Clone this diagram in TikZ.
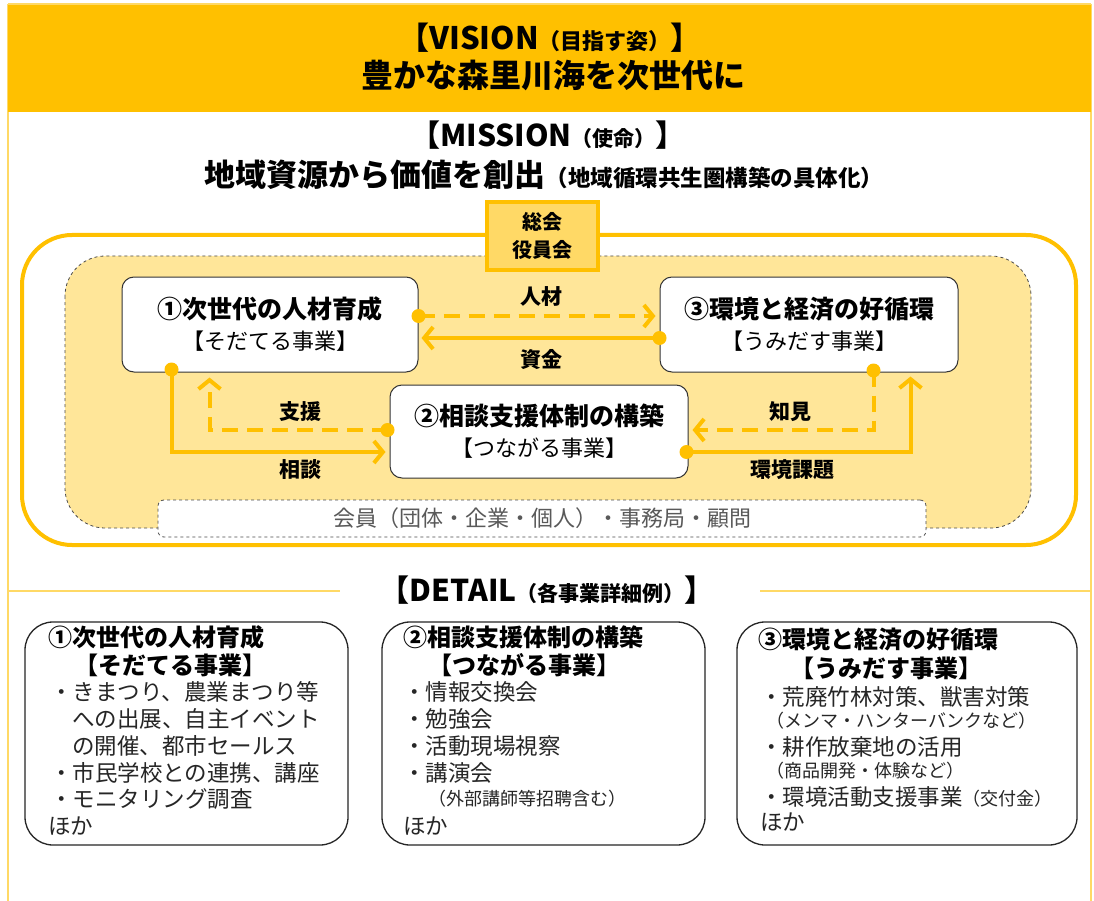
\documentclass[tikz,border=0pt]{standalone}
\usepackage{fontspec}
\setmainfont{Noto Sans CJK JP}
\usetikzlibrary{arrows.meta,calc}
\definecolor{gold}{HTML}{FFC000}
\definecolor{lightgold}{HTML}{FFE699}
\definecolor{midgold}{HTML}{FFD966}
\definecolor{txtgray}{HTML}{595959}
\begin{document}
\begin{tikzpicture}[x=1pt,y=-1pt,
  pbox/.style={draw=black!80, fill=white, rounded corners=12pt, line width=1pt,
    minimum width=296pt, minimum height=95pt, align=center, inner sep=0pt,
    font=\fontsize{22}{31}\selectfont},
  flow/.style={gold, line width=4pt, -{Straight Barb[length=9pt,width=22pt]}},
  dflow/.style={flow, dash pattern=on 16pt off 9pt},
  dot/.style={circle, fill=gold, inner sep=0pt, minimum size=14pt},
  lbl/.style={font=\bfseries\fontsize{21}{23}\selectfont, inner sep=0pt},
  dbox/.style={draw=black!85, line width=1.3pt, rounded corners=28pt, fill=white, minimum height=223pt},
  dl/.style={anchor=west, inner sep=0pt, text=black!85, font=\fontsize{22.5}{25}\selectfont},
  dt/.style={anchor=west, inner sep=0pt, font=\bfseries\fontsize{24}{26}\selectfont},
  ds/.style={anchor=west, inner sep=0pt, text=black!85, font=\fontsize{18}{20}\selectfont}
]
\useasboundingbox (0,0) rectangle (1094,901);
\fill[white] (0,0) rectangle (1094,901);
% page frame
\draw[midgold, line width=1.5pt] (8,4) -- (8,901) (1091,4) -- (1091,901) (8,4) -- (1091,4);
\fill[gold] (8,5) rectangle (1091,112);

% VISION / MISSION
\node[font=\bfseries\fontsize{31}{34}\selectfont, inner sep=0pt] (vision) at (550,38)
  {【VISION{\fontsize{22}{24}\selectfont（目指す姿）}】};
\node[font=\bfseries\fontsize{32}{36}\selectfont, inner sep=0pt] (visiontxt) at (553,75)
  {豊かな森里川海を次世代に};
\node[font=\bfseries\fontsize{30}{34}\selectfont, inner sep=0pt] (mission) at (548,135)
  {【MISSION{\fontsize{21}{24}\selectfont（使命）}】};
\node[font=\bfseries\fontsize{31}{35}\selectfont, inner sep=0pt] (missiontxt) at (544,175)
  {地域資源から価値を創出{\fontsize{22.5}{25}\selectfont（地域循環共生圏構築の具体化）}};

% organisation frame
\draw[gold, line width=4pt, fill=white, rounded corners=50pt] (22,235) rectangle (1076,545);
\draw[black!70, dashed, fill=lightgold, rounded corners=40pt, line width=0.8pt] (65,256) rectangle (1031,528);
\node[draw=gold, line width=4pt, fill=midgold, minimum width=111pt, minimum height=68pt,
  align=center, font=\bfseries\fontsize{20}{28}\selectfont] (soukai) at (542.5,236) {総会\\役員会};
\node[draw=black!70, dashed, fill=white, rounded corners=6pt, line width=0.8pt,
  minimum width=768pt, minimum height=37pt, text=txtgray,
  font=\fontsize{22}{24}\selectfont] (member) at (542,518.5) {会員（団体・企業・個人）・事務局・顧問};

% project boxes
\node[pbox] (b1) at (270,324.5) {\textbf{\fontsize{25}{31}\selectfont ①次世代の人材育成}\\【そだてる事業】};
\node[pbox, minimum width=298pt] (b3) at (809,324.5) {\textbf{\fontsize{25}{31}\selectfont ③環境と経済の好循環}\\【うみだす事業】};
\node[pbox, minimum width=298pt, minimum height=93pt] (b2) at (539,431.5) {\textbf{\fontsize{25}{31}\selectfont ②相談支援体制の構築}\\【つながる事業】};

% connectors
\node[dot] (d1) at ($(b1.east)+(0,-8.5)$) {};
\draw[dflow] (d1.center) -- ($(b3.west)+(-4,-8.5)$);
\node[dot] (d2) at ($(b3.west)+(0,13.5)$) {};
\draw[flow] (d2.center) -- ($(b1.east)+(3,13.5)$);
\node[dot] (d3) at ($(b2.west)+(-2,-1.5)$) {};
\draw[dflow] (d3.center) -| ($(b1.south west)+(88,5)$);
\node[dot] (d4) at ($(b1.south west)+(50,-3)$) {};
\draw[flow] (d4.center) |- ($(b2.west)+(-4,20.5)$);
\node[dot] (d5) at ($(b3.south east)+(-85,-2)$) {};
\draw[dflow] (d5.center) |- ($(b2.east)+(4,-1.5)$);
\node[dot] (d6) at ($(b2.east)+(-2,20.5)$) {};
\draw[flow] (d6.center) -| ($(b3.south east)+(-48,4)$);

\node[lbl] (ljinzai) at (541,297) {人材};
\node[lbl] (lshikin) at (541,360) {資金};
\node[lbl] (lshien) at (300,412) {支援};
\node[lbl] (lsoudan) at (300,470) {相談};
\node[lbl] (lchiken) at (790,412) {知見};
\node[lbl] (lkankyo) at (792,470) {環境課題};

% DETAIL
\node[font=\bfseries\fontsize{30}{34}\selectfont, inner sep=0pt] (detail) at (547,590)
  {【DETAIL{\fontsize{21}{24}\selectfont（各事業詳細例）}】};
\draw[midgold, line width=2pt] (8,591) -- (340,591) (760,591) -- (1091,591);

\node[dbox, minimum width=323pt] (ba) at (186.5,733.5) {};
\node[dbox, minimum width=323pt] (bb) at (543.5,733.5) {};
\node[dbox, minimum width=340pt] (bc) at (907,733.5) {};

% box A
\node[dt] (a1) at (48,637) {①次世代の人材育成};
\node[dt] (a2) at (74,665) {【そだてる事業】};
\node[dl] (a3) at (50,692) {・きまつり、農業まつり等};
\node[dl] (a4) at (72,719) {への出展、自主イベント};
\node[dl] (a5) at (72,746) {の開催、都市セールス};
\node[dl] (a6) at (50,773) {・市民学校との連携、講座};
\node[dl] (a7) at (50,799) {・モニタリング調査};
\node[dl] (a8) at (48,826) {ほか};

% box B
\node[dt] (c1) at (403,637) {②相談支援体制の構築};
\node[dt] (c2) at (428,665) {【つながる事業】};
\node[dl] (c3) at (403,692) {・情報交換会};
\node[dl] (c4) at (403,719) {・勉強会};
\node[dl] (c5) at (403,746) {・活動現場視察};
\node[dl] (c6) at (403,773) {・講演会};
\node[ds] (c7) at (428,799) {（外部講師等招聘含む）};
\node[dl] (c8) at (403,826) {ほか};

% box C
\node[dt] (e1) at (758,640) {③環境と経済の好循環};
\node[dt] (e2) at (790,668) {【うみだす事業】};
\node[dl] (e3) at (760,697) {・荒廃竹林対策、獣害対策};
\node[ds] (e4) at (766,721) {（メンマ・ハンターバンクなど）};
\node[dl] (e5) at (760,747) {・耕作放棄地の活用};
\node[ds] (e6) at (766,771) {（商品開発・体験など）};
\node[dl] (e7) at (760,797) {・環境活動支援事業{\fontsize{18}{20}\selectfont（交付金）}};
\node[dl] (e8) at (760,822) {ほか};
\end{tikzpicture}
\end{document}
